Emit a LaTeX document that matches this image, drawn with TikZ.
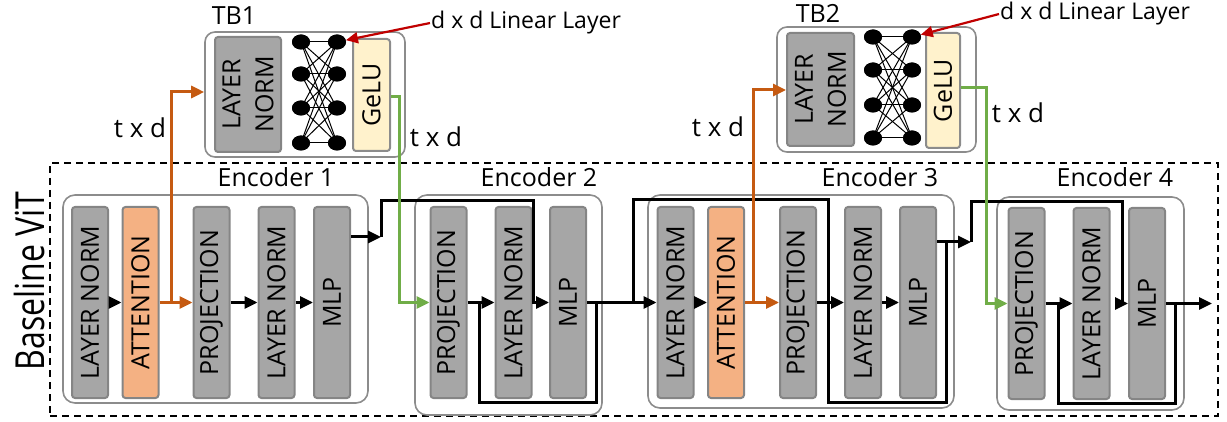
\documentclass[tikz,border=0pt]{standalone}
\usepackage{fontspec}
\setmainfont{Open Sans}
\usetikzlibrary{arrows.meta,shapes.geometric}

\definecolor{blkgray}{HTML}{A6A6A6}
\definecolor{blkedge}{HTML}{858585}
\definecolor{boxedge}{HTML}{8C8C8C}
\definecolor{attfill}{HTML}{F4B183}
\definecolor{gelufill}{HTML}{FFF2CC}
\definecolor{orng}{HTML}{C55A11}
\definecolor{grn}{HTML}{70AD47}
\definecolor{darkred}{HTML}{C00000}

\tikzset{
  blk/.style={draw=blkedge, line width=2pt, fill=blkgray, rounded corners=3pt,
    minimum width=36pt, minimum height=191pt, inner sep=0pt},
  attblk/.style={blk, fill=attfill},
  gelublk/.style={blk, fill=gelufill, draw=boxedge},
  vlabel/.style={rotate=90, font=\fontsize{25}{33}\selectfont, inner sep=0pt, align=center},
  encbox/.style={draw=boxedge, line width=1.6pt, rounded corners=12pt, inner sep=0pt},
  tbbox/.style={draw=boxedge, line width=1.6pt, rounded corners=10pt, inner sep=0pt},
  title/.style={font=\fontsize{25}{28}\selectfont, inner sep=0pt, anchor=base},
  dimlbl/.style={font=\fontsize{26}{28}\selectfont, inner sep=0pt, anchor=base},
  tip/.style={-{Triangle[length=13pt,width=12pt]}},
  wire/.style={line width=3pt},
  arr/.style={wire, tip},
  oarr/.style={wire, draw=orng, tip},
  garr/.style={wire, draw=grn, tip},
  neuron/.style={ellipse, fill=black, minimum width=18pt, minimum height=15pt, inner sep=0pt},
  synapse/.style={line width=1pt},
  redarr/.style={draw=darkred, line width=2.2pt, -{Triangle[length=12pt,width=11pt]}},
}

\begin{document}
\begin{tikzpicture}[x=1pt, y=-1pt]
\useasboundingbox (0,0) rectangle (1227,422);

% ---------- Baseline ViT frame ----------
\node[draw, dashed, dash pattern=on 7pt off 5pt, line width=1.8pt,
      minimum width=1168pt, minimum height=253pt, inner sep=0pt] (vit) at (634,289.5) {};
\node[rotate=90, font=\fontsize{40}{42}\selectfont, inner sep=0pt] (vitlbl) at (29,281)
  {\scalebox{0.8}[1]{Baseline ViT}};

% ---------- encoder frames ----------
\node[encbox, minimum width=305pt, minimum height=208pt] (enc1) at (215.5,299) {};
\node[encbox, minimum width=187pt, minimum height=220pt] (enc2) at (508.5,305) {};
\node[encbox, minimum width=306pt, minimum height=213pt] (enc3) at (801,301.5) {};
\node[encbox, minimum width=187pt, minimum height=213pt] (enc4) at (1090.5,303.5) {};

\node[title] (t1) at (276,187) {Encoder 1};
\node[title] (t2) at (539,187) {Encoder 2};
\node[title] (t3) at (880,187) {Encoder 3};
\node[title] (t4) at (1115,187) {Encoder 4};

% ---------- encoder 1 ----------
\node[blk]    (e1ln1)  at (90,302.5)   {};
\node[attblk] (e1att)  at (140.5,302.5) {};
\node[blk]    (e1proj) at (211.5,302.5) {};
\node[blk]    (e1ln2)  at (276.5,302.5) {};
\node[blk]    (e1mlp)  at (332,302.5)  {};
\node[vlabel] at (e1ln1)  {LAYER NORM};
\node[vlabel] at (e1att)  {ATTENTION};
\node[vlabel] at (e1proj) {PROJECTION};
\node[vlabel] at (e1ln2)  {LAYER NORM};
\node[vlabel] at (e1mlp)  {MLP};

% ---------- encoder 2 ----------
\node[blk] (e2proj) at (448.5,302.5) {};
\node[blk] (e2ln)   at (513.5,302.5) {};
\node[blk] (e2mlp)  at (568,302.5)   {};
\node[vlabel] at (e2proj) {PROJECTION};
\node[vlabel] at (e2ln)   {LAYER NORM};
\node[vlabel] at (e2mlp)  {MLP};

% ---------- encoder 3 ----------
\node[blk]    (e3ln1)  at (675.5,302.5) {};
\node[attblk] (e3att)  at (726,302.5)   {};
\node[blk]    (e3proj) at (798,302.5)   {};
\node[blk]    (e3ln2)  at (863,302.5)   {};
\node[blk]    (e3mlp)  at (918,302.5)   {};
\node[vlabel] at (e3ln1)  {LAYER NORM};
\node[vlabel] at (e3att)  {ATTENTION};
\node[vlabel] at (e3proj) {PROJECTION};
\node[vlabel] at (e3ln2)  {LAYER NORM};
\node[vlabel] at (e3mlp)  {MLP};

% ---------- encoder 4 ----------
\node[blk] (e4proj) at (1026.5,303.5) {};
\node[blk] (e4ln)   at (1091.5,303.5) {};
\node[blk] (e4mlp)  at (1147,303.5)   {};
\node[vlabel] at (e4proj) {PROJECTION};
\node[vlabel] at (e4ln)   {LAYER NORM};
\node[vlabel] at (e4mlp)  {MLP};

% ---------- TB1 ----------
\node[tbbox, minimum width=200pt, minimum height=125pt] (tb1) at (305,94.5) {};
\node[blk, minimum width=66pt, minimum height=115pt] (tb1ln) at (248,94.5) {};
\node[vlabel] at (tb1ln) {LAYER\\NORM};
\node[gelublk, minimum width=37pt, minimum height=112pt] (tb1g) at (371.5,95) {};
\node[vlabel] at (tb1g) {GeLU};
\foreach \r/\y in {1/42,2/74,3/108,4/143} {
  \node[neuron] (pa\r) at (301,\y) {};
  \node[neuron] (qa\r) at (337,\y) {};
}
\foreach \i in {1,...,4} \foreach \j in {1,...,4}
  \draw[synapse] (pa\i.center) -- (qa\j.center);
\foreach \r in {1,...,4} {
  \node[neuron] at (pa\r) {};
  \node[neuron] at (qa\r) {};
}
\node[title] (tb1lbl) at (234,25) {TB1};
\node[font=\fontsize{23}{26}\selectfont, inner sep=1pt, anchor=base west] (lin1) at (430,29) {d x d Linear Layer};
\draw[redarr] (lin1.west) -- (qa1);

% ---------- TB2 ----------
\node[tbbox, minimum width=199pt, minimum height=125pt] (tb2) at (876.5,89.5) {};
\node[blk, minimum width=67pt, minimum height=113pt] (tb2ln) at (820.5,89.5) {};
\node[vlabel] at (tb2ln) {LAYER\\NORM};
\node[gelublk, minimum width=34pt, minimum height=115pt] (tb2g) at (943,90.5) {};
\node[vlabel] at (tb2g) {GeLU};
\foreach \r/\y in {1/37,2/70,3/105,4/138} {
  \node[neuron] (pb\r) at (873,\y) {};
  \node[neuron] (qb\r) at (912,\y) {};
}
\foreach \i in {1,...,4} \foreach \j in {1,...,4}
  \draw[synapse] (pb\i.center) -- (qb\j.center);
\foreach \r in {1,...,4} {
  \node[neuron] at (pb\r) {};
  \node[neuron] at (qb\r) {};
}
\node[title] (tb2lbl) at (818,23) {TB2};
\node[font=\fontsize{23}{26}\selectfont, inner sep=1pt, anchor=base west] (lin2) at (999,20) {d x d Linear Layer};
\draw[redarr] (lin2.west) -- (qb1);

% ---------- dimension labels ----------
\node[dimlbl] (d1) at (140,138) {t x d};
\node[dimlbl] (d2) at (436,147) {t x d};
\node[dimlbl] (d3) at (718,137) {t x d};
\node[dimlbl] (d4) at (1018,123) {t x d};

% ---------- connectors: encoder 1 ----------
\draw[arr] (e1ln1) -- (e1att);
\draw[arr] (e1proj) -- (e1ln2);
\draw[arr] (e1ln2) -- (e1mlp);
\coordinate (j1) at (381,237);
\coordinate (k1) at (533,201);
\draw[arr] (e1mlp.east |- j1) -- (j1);
\draw[arr] (j1) |- (k1) |- (e2mlp.west);

% tap to TB1 and back
\coordinate (o1) at (171,302.5);
\draw[oarr] (e1att) -- (e1proj);
\draw[oarr] (o1) |- (tb1.west |- 0,92);
\coordinate (g1) at (399,97);
\draw[garr] (tb1g.east |- g1) -- (g1) |- (e2proj.west);

% ---------- connectors: encoder 2 ----------
\draw[arr] (e2proj) -- (e2ln);
\coordinate (l2a) at (479,302.5);
\coordinate (l2b) at (596,402);
\draw[wire] (l2a) |- (l2b) -- (l2b |- l2a);
\draw[arr] (e2mlp) -- (e3ln1);
\coordinate (b2) at (633,302.5);
\coordinate (b2top) at (828,200);
\coordinate (b2bot) at (946,402);
\draw[wire] (b2) |- (b2top) |- (b2bot) -- (b2bot |- 0,242);

% ---------- connectors: encoder 3 ----------
\draw[arr] (e3ln1) -- (e3att);
\draw[oarr] (e3att) -- (e3proj);
\draw[arr] (e3proj) -- (e3ln2);
\draw[arr] (e3ln2) -- (e3mlp);
\coordinate (j3) at (971,242);
\coordinate (k3) at (1122,202);
\draw[arr] (e3mlp.east |- j3) -- (j3);
\draw[arr] (j3) |- (k3) |- (e4mlp.west);

\coordinate (o3) at (753,302.5);
\draw[oarr] (o3) |- (tb2ln.west |- 0,90);
\coordinate (g3) at (986,88);
\draw[garr] (tb2g.east |- g3) -- (g3) |- (e4proj.west);

% ---------- connectors: encoder 4 ----------
\draw[arr] (e4proj) -- (e4ln);
\coordinate (l4a) at (1058,303.5);
\coordinate (l4b) at (1175,403);
\draw[wire] (l4a) |- (l4b) -- (l4b |- l4a);
\coordinate (out) at (1212,303.5);
\draw[arr] (e4mlp) -- (out);
\end{tikzpicture}
\end{document}
